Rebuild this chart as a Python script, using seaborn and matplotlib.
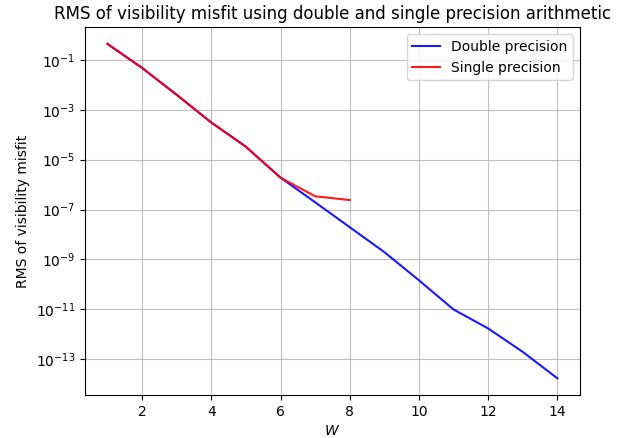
import matplotlib
matplotlib.use("Agg")
import matplotlib.pyplot as plt
import seaborn as sns
import pandas as pd
import numpy as np

w_double = [1, 2, 3, 4, 5, 6, 7, 8, 9, 10, 11, 12, 13, 14]
rms_double = [0.44, 0.048, 4.0e-3, 3.1e-4, 3.3e-5, 1.9e-6, 1.96e-7, 1.96e-8,
              1.96e-9, 1.45e-10, 9.8e-12, 1.7e-12, 1.95e-13, 1.7e-14]
w_single = [1, 2, 3, 4, 5, 6, 7, 8]
rms_single = [0.44, 0.048, 4.0e-3, 3.1e-4, 3.3e-5, 1.9e-6, 3.4e-7, 2.4e-7]
series_names = ["Double precision", "Single precision"]
colors = ["blue", "red"]

df = pd.concat([
    pd.DataFrame({"W": w_double, "rms": rms_double, "series": series_names[0]}),
    pd.DataFrame({"W": w_single, "rms": rms_single, "series": series_names[1]}),
])

fig = plt.figure(figsize=(6.29, 4.38), dpi=100)
ax = fig.add_axes([0.135, 0.098, 0.787, 0.840])
sns.lineplot(data=df, x="W", y="rms", hue="series", palette=dict(zip(series_names, colors)),
             ax=ax, linewidth=1.5, alpha=0.9)
ax.set_yscale("log")
ax.set_yticks([10.0**k for k in [-1, -3, -5, -7, -9, -11, -13]])
ax.yaxis.set_minor_locator(matplotlib.ticker.NullLocator())
ax.set_xticks([2, 4, 6, 8, 10, 12, 14])
ax.grid(True, color="#b0b0b0", linewidth=0.8, alpha=0.8)
ax.set_xlabel("$W$")
ax.set_ylabel("RMS of visibility misfit")
ax.set_title("RMS of visibility misfit using double and single precision arithmetic")
ax.legend(loc="upper right")
fig.savefig("out.png", dpi=100)
